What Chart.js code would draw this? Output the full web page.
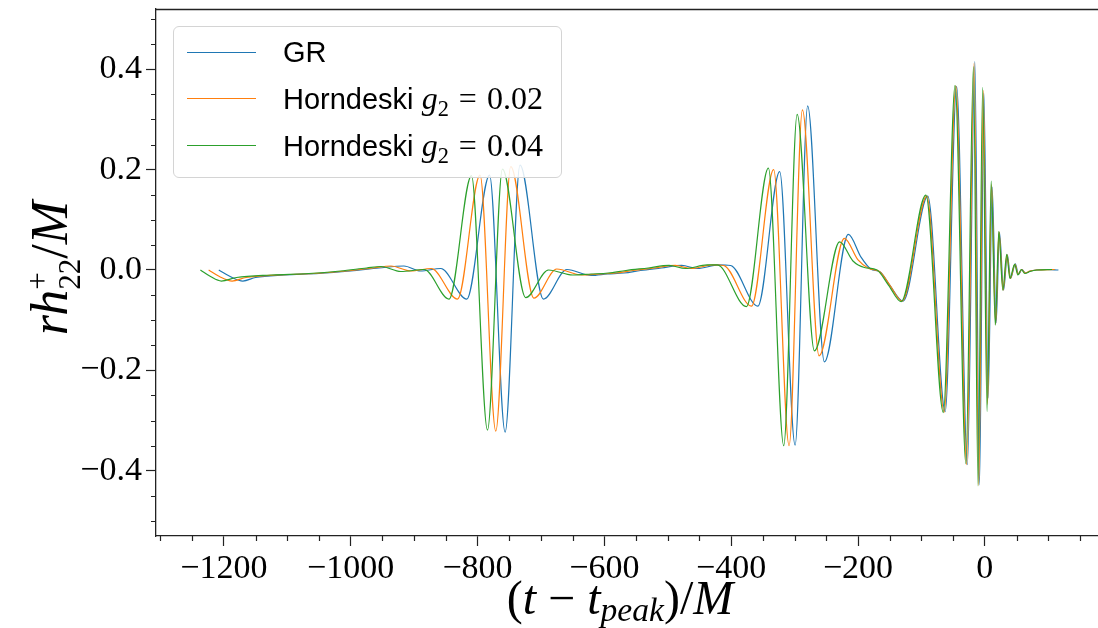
<!DOCTYPE html>
<html><head><meta charset="utf-8">
<script src="https://cdn.jsdelivr.net/npm/chart.js@4.4.1/dist/chart.umd.min.js"></script>
<style>
html,body{margin:0;padding:0;background:#fff;}
#wrap{position:relative;width:1098px;height:628px;overflow:hidden;background:#fff;}
#c{position:absolute;left:0;top:0;}
.ser{font-family:'Liberation Serif',serif;}
.it{font-style:italic;}
#leg{position:absolute;left:173px;top:26px;width:389px;height:152px;border:1px solid #d4d4d4;border-radius:6px;background:rgba(255,255,255,0.85);box-sizing:border-box;}
.ln{position:absolute;left:13px;width:69px;height:1.2px;}
.lt{position:absolute;left:109px;height:40px;line-height:40px;font-family:'Liberation Sans',sans-serif;font-size:29px;color:#000;white-space:nowrap;}
.lt .m{font-family:'Liberation Serif',serif;font-size:32px;word-spacing:2px;}
.sb{font-size:0.7em;position:relative;top:0.3em;}
.sbx{font-size:0.7em;position:relative;top:0.22em;}
#xt{position:absolute;left:370px;width:500px;top:570px;height:56px;line-height:56px;text-align:center;font-size:48px;white-space:nowrap;}
#yt{position:absolute;left:-100px;width:300px;top:238px;height:60px;line-height:60px;text-align:center;font-size:52px;white-space:nowrap;transform:rotate(-90deg);transform-origin:50% 50%;}
.ss{display:inline-block;vertical-align:middle;line-height:1;font-size:0.6em;font-style:normal;text-align:left;position:relative;top:-0.05em;}
.ss span{display:block;}
</style>
</head><body>
<div id="wrap">
<canvas id="c" width="1098" height="628"></canvas>
<div id="leg">
  <div class="ln" style="top:25px;background:#1f77b4"></div>
  <div class="lt" style="top:5px">GR</div>
  <div class="ln" style="top:71px;background:#ff7f0e"></div>
  <div class="lt" style="top:51px">Horndeski <span class="m"><span class="it">g</span><span class="sb">2</span> = 0.02</span></div>
  <div class="ln" style="top:118px;background:#2ca02c"></div>
  <div class="lt" style="top:98px">Horndeski <span class="m"><span class="it">g</span><span class="sb">2</span> = 0.04</span></div>
</div>
<div id="xt" class="ser">(<span class="it">t</span> − <span class="it">t</span><span class="it sbx">peak</span>)/<span class="it">M</span></div>
<div id="yt" class="ser"><span class="it">rh</span><span class="ss"><span>+</span><span>22</span></span>/<span class="it">M</span></div>
</div>
<script>
// GR
const grT = [-1208,-1190,-1170,-1150,-1105,-1050,-1000,-955,-916,-890,-858,-817,-781,-756.5,-733,-696,-659,-621,-595,-569,-543,-510,-478,-453,-420,-401,-358,-323.5,-299.2,-279.4,-253,-215.3,-195,-180,-165,-150,-129,-90,-62.5,-44.5,-27.5,-15.8,-8.5,-1.5,5.2,11.5,17.8,23,29.5,35.5,40.5,48,53,58.5,64,72,82,98,116];
const grH = [0.0,-0.013,-0.022,-0.015,-0.010,-0.007,-0.002,0.004,0.008,-0.002,0.003,-0.058,0.189,-0.323,0.209,-0.058,0.001,-0.011,-0.008,-0.006,-0.001,0.004,0.009,0.003,0.010,0.009,-0.072,0.196,-0.349,0.327,-0.183,0.071,0.025,0.002,-0.004,-0.030,-0.062,0.147,-0.282,0.366,-0.388,0.415,-0.428,0.352,-0.255,0.165,-0.105,0.075,-0.040,0.030,-0.017,0.012,-0.009,0.001,-0.006,-0.002,0.0,0.001,0.0];
// Horndeski g2 = 0.02
const h02T = [-1224,-1207,-1187,-1165,-1115,-1058,-1008,-965,-936.5,-905,-873,-831.5,-796,-771.2,-747.6,-711,-675,-636,-608,-582,-555,-521,-488,-463,-429,-412,-368,-333,-308.7,-287.7,-261.4,-221.6,-200,-183,-166,-150,-130.5,-91.5,-64,-45.8,-28.7,-17,-9.7,-2.5,4.2,10.5,17,22.3,28.8,35,40,47.5,52.5,58,63.5,71,82,110];
const h02H = [0.0,-0.013,-0.022,-0.015,-0.010,-0.007,-0.002,0.004,0.008,-0.002,0.003,-0.058,0.189,-0.321,0.206,-0.056,0.002,-0.010,-0.008,-0.006,-0.001,0.004,0.009,0.003,0.010,0.009,-0.072,0.200,-0.350,0.319,-0.171,0.063,0.020,0.003,-0.003,-0.030,-0.062,0.147,-0.283,0.367,-0.388,0.412,-0.429,0.358,-0.268,0.170,-0.108,0.076,-0.040,0.030,-0.017,0.011,-0.009,0.001,-0.006,-0.002,0.0,0.001];
// Horndeski g2 = 0.04
const h04T = [-1237,-1221,-1204,-1180,-1125,-1066,-1016,-975,-952,-921,-884,-845,-809.5,-784.3,-760.7,-724,-688,-650,-621,-594,-566,-531,-498,-472,-438,-422,-376,-341.3,-317.2,-296,-268.8,-229,-208,-190,-170,-152,-132,-93,-65.5,-47,-30,-18,-10.8,-3.5,3.5,10,16.5,22,28.3,34.5,39.5,47,52,57.5,63,71,82,106];
const h04H = [0.0,-0.013,-0.022,-0.015,-0.010,-0.007,-0.002,0.004,0.007,-0.003,0.001,-0.058,0.188,-0.319,0.201,-0.055,0.0,-0.010,-0.008,-0.006,-0.001,0.004,0.009,0.003,0.010,0.010,-0.073,0.203,-0.350,0.310,-0.161,0.056,0.018,0.005,0.0,-0.030,-0.063,0.149,-0.284,0.368,-0.386,0.405,-0.430,0.364,-0.282,0.177,-0.110,0.077,-0.040,0.031,-0.017,0.011,-0.010,0.001,-0.007,-0.003,0.0,0.001];

const seriesLabels = ['GR','Horndeski g2 = 0.02','Horndeski g2 = 0.04'];
const seriesColors = ['#1f77b4','#ff7f0e','#2ca02c'];
const xRange = [-1307, 178.4];
const yRange = [-0.53, 0.52];
const xMajorStep = 200, xMinorStep = 50;
const yMajorStep = 0.2, yMinorStep = 0.05;

function pts(T,H){ return T.map((t,i)=>({x:t,y:H[i]})); }
function fmt(v,d){ const s = Math.abs(v).toFixed(d); return (v < -1e-9 ? '\u2212' : '') + s; }

const minorTicks = {
  id:'minorTicks',
  afterDraw(chart){
    const {ctx, chartArea:a, scales:{x,y}} = chart;
    ctx.save();
    ctx.strokeStyle = '#222'; ctx.lineWidth = 1.2;
    ctx.beginPath();
    for (let k = Math.ceil(x.min/xMinorStep); k*xMinorStep <= x.max; k++){
      const v = k*xMinorStep; if (Math.abs(v % xMajorStep) < 1e-6) continue;
      const p = Math.round(x.getPixelForValue(v)) + 0.5;
      ctx.moveTo(p, a.bottom); ctx.lineTo(p, a.bottom+5);
    }
    for (let k = Math.ceil(y.min/yMinorStep); k*yMinorStep <= y.max + 1e-9; k++){
      if (k % 4 === 0) continue;
      const p = Math.round(y.getPixelForValue(k*yMinorStep)) + 0.5;
      ctx.moveTo(a.left-5, p); ctx.lineTo(a.left, p);
    }
    ctx.stroke();
    ctx.beginPath(); ctx.lineWidth = 1.3;
    ctx.moveTo(a.left, a.top+0.5); ctx.lineTo(a.right, a.top+0.5);
    ctx.stroke();
    ctx.restore();
  }
};

const tickFont = {family:"'Liberation Serif', serif", size:34};
new Chart(document.getElementById('c'), {
  type:'line',
  data:{datasets:[
    {label:seriesLabels[0], data:pts(grT,grH), borderColor:seriesColors[0], order:3},
    {label:seriesLabels[1], data:pts(h02T,h02H), borderColor:seriesColors[1], order:2},
    {label:seriesLabels[2], data:pts(h04T,h04H), borderColor:seriesColors[2], order:1}
  ]},
  options:{
    responsive:false, animation:false, devicePixelRatio:1,
    layout:{padding:{top:9,right:0,left:0,bottom:0}},
    plugins:{legend:{display:false}, tooltip:{enabled:false}},
    elements:{point:{radius:0}, line:{borderWidth:1.2, cubicInterpolationMode:'monotone', fill:false}},
    scales:{
      x:{type:'linear', min:xRange[0], max:xRange[1],
        afterFit(s){ s.height = 92; s.paddingLeft = 0; s.paddingRight = 0; },
        ticks:{stepSize:xMajorStep, includeBounds:false, autoSkip:false, maxRotation:0, padding:3, color:'#000', font:tickFont, callback:v=>fmt(v,0)},
        grid:{drawOnChartArea:false, tickLength:10, tickColor:'#222', tickWidth:1.2},
        border:{color:'#222', width:1.3}},
      y:{type:'linear', min:yRange[0], max:yRange[1],
        afterFit(s){ s.width = 156; s.paddingTop = 0; s.paddingBottom = 0; },
        ticks:{stepSize:yMajorStep, includeBounds:false, autoSkip:false, padding:4, color:'#000', font:tickFont, callback:v=>fmt(v,1)},
        grid:{drawOnChartArea:false, tickLength:10, tickColor:'#222', tickWidth:1.2},
        border:{color:'#222', width:1.3}}
    }
  },
  plugins:[minorTicks]
});
</script>
</body></html>
